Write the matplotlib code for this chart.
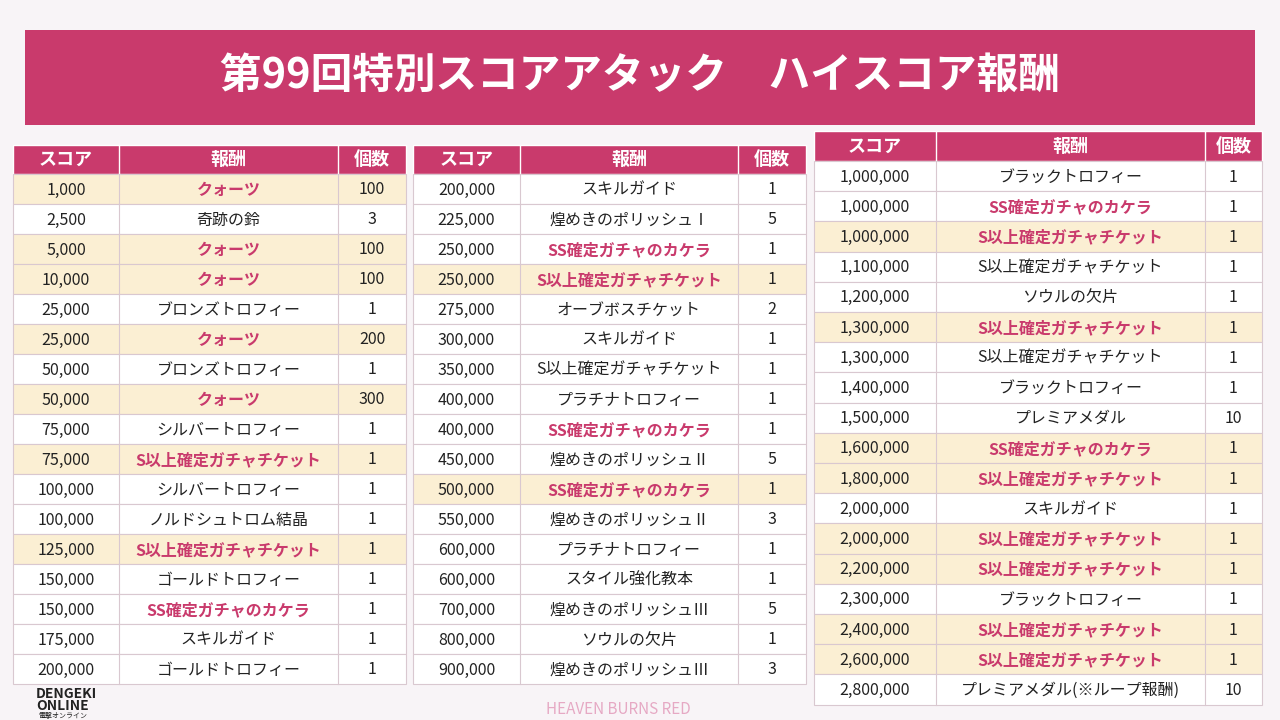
import matplotlib.pyplot as plt
from matplotlib.patches import Rectangle

plt.rcParams['font.family'] = ['Noto Sans CJK JP', 'DejaVu Sans']

title = "第99回特別スコアアタック　ハイスコア報酬"
headers = ["スコア", "報酬", "個数"]

left_scores = ["1,000", "2,500", "5,000", "10,000", "25,000", "25,000", "50,000", "50,000",
               "75,000", "75,000", "100,000", "100,000", "125,000", "150,000", "150,000",
               "175,000", "200,000"]
left_rewards = ["クォーツ", "奇跡の鈴", "クォーツ", "クォーツ", "ブロンズトロフィー", "クォーツ",
                "ブロンズトロフィー", "クォーツ", "シルバートロフィー", "S以上確定ガチャチケット",
                "シルバートロフィー", "ノルドシュトロム結晶", "S以上確定ガチャチケット",
                "ゴールドトロフィー", "SS確定ガチャのカケラ", "スキルガイド", "ゴールドトロフィー"]
left_counts = ["100", "3", "100", "100", "1", "200", "1", "300", "1", "1", "1", "1", "1", "1", "1", "1", "1"]
left_hl = [1, 0, 1, 1, 0, 1, 0, 1, 0, 1, 0, 0, 1, 0, 0, 0, 0]

mid_scores = ["200,000", "225,000", "250,000", "250,000", "275,000", "300,000", "350,000",
              "400,000", "400,000", "450,000", "500,000", "550,000", "600,000", "600,000",
              "700,000", "800,000", "900,000"]
mid_rewards = ["スキルガイド", "煌めきのポリッシュⅠ", "SS確定ガチャのカケラ", "S以上確定ガチャチケット",
               "オーブボスチケット", "スキルガイド", "S以上確定ガチャチケット", "プラチナトロフィー",
               "SS確定ガチャのカケラ", "煌めきのポリッシュⅡ", "SS確定ガチャのカケラ",
               "煌めきのポリッシュⅡ", "プラチナトロフィー", "スタイル強化教本", "煌めきのポリッシュⅢ",
               "ソウルの欠片", "煌めきのポリッシュⅢ"]
mid_counts = ["1", "5", "1", "1", "2", "1", "1", "1", "1", "5", "1", "3", "1", "1", "5", "1", "3"]
mid_hl = [0, 0, 0, 1, 0, 0, 0, 0, 0, 0, 1, 0, 0, 0, 0, 0, 0]

right_scores = ["1,000,000", "1,000,000", "1,000,000", "1,100,000", "1,200,000", "1,300,000",
                "1,300,000", "1,400,000", "1,500,000", "1,600,000", "1,800,000", "2,000,000",
                "2,000,000", "2,200,000", "2,300,000", "2,400,000", "2,600,000", "2,800,000"]
right_rewards = ["ブラックトロフィー", "SS確定ガチャのカケラ", "S以上確定ガチャチケット",
                 "S以上確定ガチャチケット", "ソウルの欠片", "S以上確定ガチャチケット",
                 "S以上確定ガチャチケット", "ブラックトロフィー", "プレミアメダル",
                 "SS確定ガチャのカケラ", "S以上確定ガチャチケット", "スキルガイド",
                 "S以上確定ガチャチケット", "S以上確定ガチャチケット", "ブラックトロフィー",
                 "S以上確定ガチャチケット", "S以上確定ガチャチケット", "プレミアメダル(※ループ報酬)"]
right_counts = ["1", "1", "1", "1", "1", "1", "1", "1", "10", "1", "1", "1", "1", "1", "1", "1", "1", "10"]
right_hl = [0, 0, 1, 0, 0, 1, 0, 0, 0, 1, 1, 0, 1, 1, 0, 1, 1, 0]

PINK = "#c93a6c"
HL = "#fbefd3"
LINE = "#d9c8d0"

fig = plt.figure(figsize=(12.8, 7.2), dpi=100)
fig.patch.set_facecolor("#f8f4f7")
ax = fig.add_axes([0, 0, 1, 1])
ax.set_xlim(0, 1280)
ax.set_ylim(720, 0)
ax.axis("off")

# title banner
ax.add_patch(Rectangle((25, 30), 1230, 95, facecolor=PINK, edgecolor="none"))
ax.text(640, 76, title, ha="center", va="center", color="white", fontsize=30, fontweight="bold")


def draw_table(cols, top, hh, rh, scores, rewards, counts, hl):
    x0, x3 = cols[0], cols[-1]
    ax.add_patch(Rectangle((x0, top), x3 - x0, hh, facecolor=PINK, edgecolor="white", lw=1))
    for i, h in enumerate(headers):
        ax.text((cols[i] + cols[i + 1]) / 2, top + hh / 2, h, ha="center", va="center",
                color="white", fontsize=13, fontweight="bold")
    for c in cols[1:-1]:
        ax.plot([c, c], [top, top + hh], color="white", lw=1)
    y = top + hh
    for s, r, n, h in zip(scores, rewards, counts, hl):
        ax.add_patch(Rectangle((x0, y), x3 - x0, rh, facecolor=HL if h else "white",
                               edgecolor=LINE, lw=0.8))
        for c in cols[1:-1]:
            ax.plot([c, c], [y, y + rh], color=LINE, lw=0.8)
        pink = h or r.startswith("SS")
        col = PINK if pink else "#222222"
        wt = "bold" if pink else "normal"
        ym = y + rh / 2 + 1
        ax.text((cols[0] + cols[1]) / 2, ym, s, ha="center", va="center", fontsize=11.5, color="#222222")
        ax.text((cols[1] + cols[2]) / 2, ym, r, ha="center", va="center", fontsize=11.5, color=col, fontweight=wt)
        ax.text((cols[2] + cols[3]) / 2, ym, n, ha="center", va="center", fontsize=11.5, color="#222222")
        y += rh


draw_table([13, 119, 338, 406], 145, 29, 30.0, left_scores, left_rewards, left_counts, left_hl)
draw_table([413, 520, 738, 806], 145, 29, 30.0, mid_scores, mid_rewards, mid_counts, mid_hl)
draw_table([814, 936, 1205, 1262], 131, 30, 30.2, right_scores, right_rewards, right_counts, right_hl)

ax.text(618, 709, "HEAVEN BURNS RED", ha="center", va="center", fontsize=11, color="#e6a9c4")
ax.text(36, 700, "DENGEKI\nONLINE", ha="left", va="center", fontsize=10, color="#222222",
        fontweight="bold", linespacing=0.85)
ax.text(38, 716, "電撃オンライン", ha="left", va="center", fontsize=5, color="#222222")

fig.savefig("out.png", dpi=100, facecolor=fig.get_facecolor())
